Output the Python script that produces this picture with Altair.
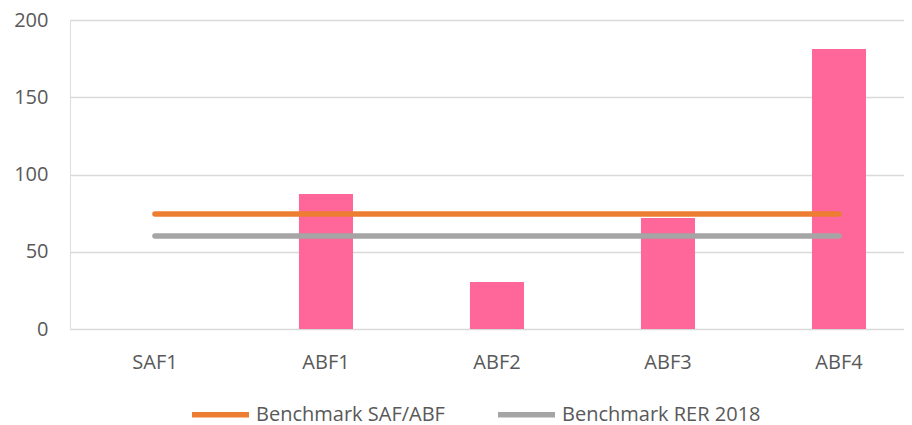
import altair as alt
import pandas as pd

categories = ["SAF1", "ABF1", "ABF2", "ABF3", "ABF4"]
values = [0, 87.4, 30.4, 71.8, 181.2]
bench_saf_abf = [74.4, 74.4, 74.4, 74.4, 74.4]
bench_rer = [60.2, 60.2, 60.2, 60.2, 60.2]
series_names = ["Benchmark SAF/ABF", "Benchmark RER 2018"]

bars_df = pd.DataFrame({"cat": categories, "value": values})
lines_df = pd.DataFrame(
    {
        "cat": categories * 2,
        "value": bench_saf_abf + bench_rer,
        "series": [series_names[0]] * 5 + [series_names[1]] * 5,
    }
)

FONT = "Open Sans"
TXT = "#595959"
FS = 20

xscale = alt.Scale(domain=categories, paddingInner=0.684, paddingOuter=0.2805, align=0.604)
yscale = alt.Scale(domain=[0, 200])

x = alt.X(
    "cat:N",
    scale=xscale,
    sort=categories,
    axis=alt.Axis(
        title=None,
        labelAngle=0,
        ticks=False,
        domain=False,
        labelFontSize=FS,
        labelColor=TXT,
        labelFont=FONT,
        labelPadding=23,
    ),
)
y = alt.Y(
    "value:Q",
    scale=yscale,
    axis=alt.Axis(
        title=None,
        values=[0, 50, 100, 150, 200],
        ticks=False,
        domain=False,
        grid=True,
        gridColor="#D9D9D9",
        gridWidth=1.5,
        labelFontSize=FS,
        labelColor=TXT,
        labelFont=FONT,
        labelPadding=22,
    ),
)

bars = alt.Chart(bars_df).mark_bar(color="#FF6699").encode(x=x, y=y)

lines = (
    alt.Chart(lines_df)
    .mark_line(strokeWidth=5.5, strokeCap="round")
    .encode(
        x=alt.X("cat:N", scale=xscale, sort=categories),
        y=alt.Y("value:Q", scale=yscale),
        color=alt.Color(
            "series:N",
            scale=alt.Scale(domain=series_names, range=["#ED7D31", "#A5A5A5"]),
            sort=series_names,
            legend=alt.Legend(
                title=None,
                orient="none",
                direction="horizontal",
                legendX=119,
                legendY=363,
                symbolType="stroke",
                symbolSize=3249,
                symbolStrokeWidth=5.5,
                labelFontSize=FS,
                labelColor=TXT,
                labelFont=FONT,
                labelOffset=4,
                labelLimit=400,
                columnPadding=42,
            ),
        ),
        detail="series:N",
    )
)

chart = (
    alt.layer(bars, lines)
    .properties(
        width=834,
        height=309,
        padding={"left": 62, "top": 12, "right": 0, "bottom": 95},
        autosize=alt.AutoSizeParams(type="none"),
    )
    .configure_view(stroke=None)
    .configure(font=FONT)
)

chart.save("out.html", embed_options={"renderer": "svg", "actions": False})
